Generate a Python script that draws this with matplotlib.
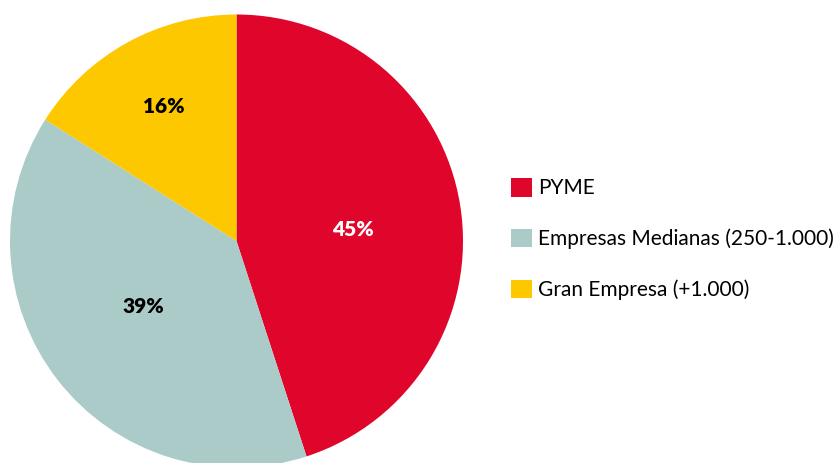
import numpy as np
import matplotlib
matplotlib.use("Agg")
import matplotlib.pyplot as plt
from matplotlib.patches import Patch

categories = ["PYME", "Empresas Medianas (250-1.000)", "Gran Empresa (+1.000)"]
values = [45, 39, 16]
labels = ["45%", "39%", "16%"]

colors = ["#E0052B", "#ABCBC9", "#FEC800"]
label_colors = ["white", "black", "black"]
label_dist = [0.517, 0.505, 0.675]
label_shift = [-3.6, -2.6, -0.6]  # degrees off the wedge's mid angle

plt.rcParams['font.family'] = ['Lato', 'DejaVu Sans']

def main():
    fig = plt.figure(figsize=(8.39, 4.63), dpi=100)
    W, H = 839, 463
    cx, cy, r = 236.5, 241, 226.5
    ax = fig.add_axes([(cx - r) / W, (H - cy - r) / H, 2 * r / W, 2 * r / H])

    wedges, _ = ax.pie(values, colors=colors, startangle=90, counterclock=False,
                       radius=1, wedgeprops=dict(linewidth=0))
    ax.set_xlim(-1, 1)
    ax.set_ylim(-1, 1)
    ax.set_aspect("equal")
    ax.axis("off")
    for w in wedges:
        w.set_clip_on(False)

    # percentage labels near each wedge's mid angle
    for w, lab, col, d, s in zip(wedges, labels, label_colors, label_dist, label_shift):
        mid = np.deg2rad((w.theta1 + w.theta2) / 2 + s)
        ax.text(d * np.cos(mid), d * np.sin(mid), lab, color=col,
                fontsize=15, fontweight="heavy", ha="center", va="center")

    handles = [Patch(facecolor=c, edgecolor="none") for c in colors]
    fig.legend(handles, categories, loc="center left",
               bbox_to_anchor=(511 / W, (H - 239) / H), frameon=False,
               fontsize=15, handlelength=1.0, handleheight=1.0,
               handletextpad=0.3, labelspacing=1.45, borderpad=0,
               borderaxespad=0)

    fig.savefig("out.png", dpi=100)

if __name__ == "__main__":
    main()
